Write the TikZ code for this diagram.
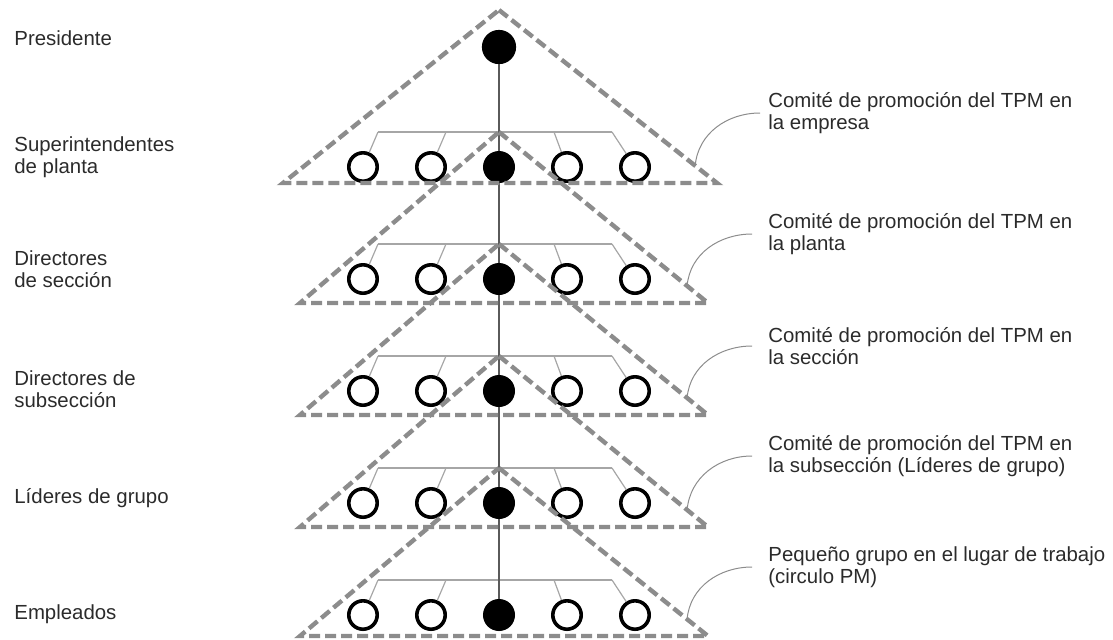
\documentclass[tikz,border=0pt]{standalone}
\usepackage{fontspec}
\setmainfont{Liberation Sans}
\usetikzlibrary{positioning,calc}
\definecolor{dashgray}{HTML}{8C8C8C}
\definecolor{linegray}{HTML}{A6A6A6}
\definecolor{spinegray}{HTML}{5A5A5A}
\definecolor{txtgray}{HTML}{2B2B2B}
\tikzset{
  member/.style={circle,draw=black,fill=white,line width=1.8pt,minimum size=14.2pt,inner sep=0pt},
  leader/.style={member,fill=black},
  committee/.style={draw=dashgray,line width=2.2pt,dash pattern=on 5.5pt off 2.5pt},
  bus/.style={draw=linegray,line width=0.6pt},
  spine/.style={draw=spinegray,line width=0.8pt},
  callout/.style={draw=dashgray,line width=0.5pt},
  rank/.style={anchor=west,align=left,text=txtgray,inner sep=0pt,
    font=\fontsize{10.2}{11.2}\selectfont},
}

\begin{document}
\begin{tikzpicture}[x=0.5pt,y=-0.5pt,node distance=34pt,on grid]
\useasboundingbox (0,0) rectangle (1113,639);

% ranks on the left
\node[rank] (rank0) at (14,38) {Presidente};
\node[rank] (rank1) at (14,157) {Superintendentes\\de planta};
\node[rank] (rank2) at (14,269) {Directores\\de sección};
\node[rank] (rank3) at (14,389) {Directores de\\subsección};
\node[rank] (rank4) at (14,498) {Líderes de grupo};
\node[rank] (rank5) at (14,614) {Empleados};

% people
\node[leader,minimum size=15.3pt] (p) at (499,47) {};
\foreach \i in {1,...,5} {
  \pgfmathsetmacro\cy{55+112*\i}
  \node[leader] (c\i) at (499,\cy) {};
  \node[member,left=of c\i] (b\i) {};
  \node[member,left=of b\i] (a\i) {};
  \node[member,right=of c\i] (d\i) {};
  \node[member,right=of d\i] (e\i) {};
  \pgfmathsetmacro\by{\cy-35}
  \coordinate (ba\i) at (378,\by);
  \coordinate (bb\i) at (446,\by);
  \coordinate (bd\i) at (554,\by);
  \coordinate (be\i) at (612,\by);
  \draw[bus] (ba\i) -- (be\i);
  \draw[bus] (ba\i) -- (a\i);
  \draw[bus] (bb\i) -- (b\i);
  \draw[bus] (bd\i) -- (d\i);
  \draw[bus] (be\i) -- (e\i);
}
\draw[spine] (p) -- (c1);
\foreach \i/\j in {1/2,2/3,3/4,4/5}
  \draw[spine] (c\i) -- (c\j);

% committees
\coordinate (t1) at (499,10);
\coordinate (l1) at (283,183);
\coordinate (r1) at (717,183);
\foreach \i/\top/\base in {2/132/303,3/244/415,4/356/527,5/468/636} {
  \coordinate (t\i) at (499,\top);
  \coordinate (l\i) at (300,\base);
  \coordinate (r\i) at (708,\base);
}
\foreach \i in {1,...,5}
  \draw[committee] (t\i) -- (r\i) -- (l\i) -- cycle;

% committee names
\node[rank] (com1) at (768,113) {Comité de promoción del TPM en\\la empresa};
\node[rank] (com2) at (768,234) {Comité de promoción del TPM en\\la planta};
\node[rank] (com3) at (768,346) {Comité de promoción del TPM en\\la sección};
\node[rank] (com4) at (768,456) {Comité de promoción del TPM en\\la subsección (Líderes de grupo)};
\node[rank] (com5) at (768,567) {Pequeño grupo en el lugar de trabajo\\(circulo PM)};
\foreach \i/\s in {1/4pt,2/8pt,3/8pt,4/8pt,5/8pt}
  \draw[callout] ([xshift=-\s]com\i.west) to[out=180,in=85] ($(t\i)!0.9!(r\i)$);
\end{tikzpicture}
\end{document}
